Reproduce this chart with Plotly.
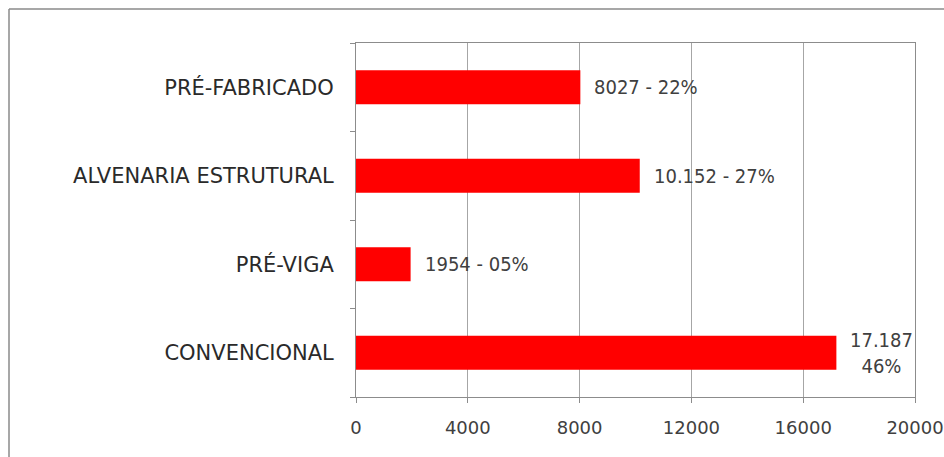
import plotly.graph_objects as go

categories = ["PRÉ-FABRICADO", "ALVENARIA ESTRUTURAL", "PRÉ-VIGA", "CONVENCIONAL"]
values = [8027, 10152, 1954, 17187]
bar_labels = ["8027 - 22%", "10.152 - 27%", "1954 - 05%", "17.187<br>46%"]
x_ticks = [0, 4000, 8000, 12000, 16000, 20000]

W, H = 944, 457
L, R, T, B = 356, 29, 43, 60
pw, ph = W - L - R, H - T - B

fig = go.Figure()
fig.add_trace(go.Bar(
    x=values, y=categories, orientation="h",
    marker=dict(color="#ff0000", line=dict(width=0)),
    hoverinfo="x+y",
))

for v, c, t in zip(values, categories, bar_labels):
    fig.add_annotation(
        x=v, y=c, text=t, showarrow=False, xanchor="left", yanchor="middle",
        xshift=12, align="center",
        font=dict(family="Liberation Sans Narrow, DejaVu Sans Condensed, sans-serif", size=20, color="#404040"),
    )

# outer chart frame (left and top edges)
fig.add_shape(type="line", xref="paper", yref="paper",
              x0=(9 - L) / pw, x1=(9 - L) / pw, y0=-B / ph - 0.05, y1=1 + (T - 9) / ph,
              line=dict(color="#8a8a8a", width=1.5))
fig.add_shape(type="line", xref="paper", yref="paper",
              x0=(9 - L) / pw, x1=1 + R / pw + 0.05, y0=1 + (T - 9) / ph, y1=1 + (T - 9) / ph,
              line=dict(color="#8a8a8a", width=1.5))

fig.update_layout(
    width=W, height=H,
    margin=dict(l=L, r=R, t=T, b=B, autoexpand=False),
    paper_bgcolor="white", plot_bgcolor="white",
    bargap=0.615,
    showlegend=False,
    font=dict(family="DejaVu Sans, sans-serif", color="#404040"),
)
fig.update_xaxes(
    range=[0, 20000], tickvals=x_ticks, ticktext=[str(v) for v in x_ticks],
    showgrid=True, gridcolor="#a6a6a6", gridwidth=1,
    showline=True, linecolor="#8c8c8c", linewidth=1, mirror=True,
    ticks="outside", ticklen=5, tickcolor="#8c8c8c",
    tickfont=dict(family="DejaVu Sans, sans-serif", size=18, color="#404040"),
    ticklabelstandoff=9,
    zeroline=False, fixedrange=True, automargin=False,
)
fig.update_yaxes(
    categoryorder="array", categoryarray=categories[::-1],
    showline=True, linecolor="#8c8c8c", linewidth=1, mirror=True,
    ticks="outside", ticklen=5, tickcolor="#8c8c8c", tickson="boundaries",
    tickfont=dict(family="DejaVu Sans, sans-serif", size=21, color="#2a2a2a"),
    ticklabelstandoff=17,
    showgrid=False, fixedrange=True, automargin=False,
)

fig.write_html("out.html")
